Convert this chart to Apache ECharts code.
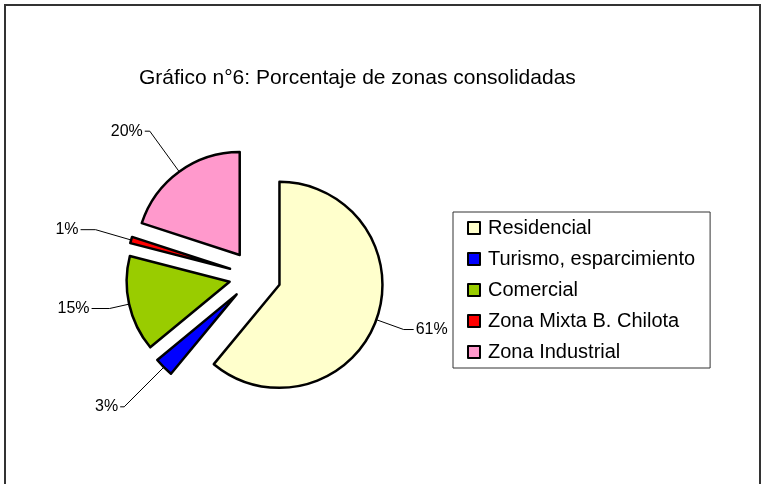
<!DOCTYPE html>
<html>
<head>
<meta charset="utf-8">
<script src="https://cdn.jsdelivr.net/npm/echarts@6/dist/echarts.min.js"></script>
<style>
html,body{margin:0;padding:0;background:#fff;}
#main{width:764px;height:484px;}
</style>
</head>
<body>
<div id="main"></div>
<script>
var categories=["Residencial","Turismo, esparcimiento","Comercial","Zona Mixta B. Chilota","Zona Industrial"];
var values=[61,3,15,1,20];
var colors=["#FFFFCC","#0000FF","#99CC00","#FF0000","#FF99CC"];
var titleText="Gráfico n°6: Porcentaje de zonas consolidadas";
// leader line lengths per slice (first segment, second segment)
var leadLen=[29,56,20,37,50];
var leadLen2=[10,4,18,15,5];

var data=[];
for(var i=0;i<categories.length;i++){
    data.push({
        name:categories[i],
        value:values[i],
        selected:true,
        itemStyle:{color:colors[i]},
        labelLine:{length:leadLen[i],length2:leadLen2[i]}
    });
}
var chart=echarts.init(document.getElementById("main"));
chart.setOption({
    animation:false,
    textStyle:{fontFamily:"Liberation Sans, Arial, sans-serif"},
    graphic:[{
        type:"rect",
        shape:{x:5,y:5,width:755,height:495},
        style:{fill:null,stroke:"#333",lineWidth:2},
        silent:true
    }],
    title:{
        text:titleText,
        left:134,
        top:63,
        textStyle:{fontSize:21,fontWeight:"normal",color:"#000",fontFamily:"Liberation Sans, Arial, sans-serif"}
    },
    legend:{
        orient:"vertical",
        left:453,
        top:212,
        padding:[6,15,6,14],
        itemGap:11,
        itemWidth:12,
        itemHeight:12,
        borderColor:"#333",
        borderWidth:1,
        selectedMode:false,
        icon:"rect",
        itemStyle:{borderColor:"#000",borderWidth:2},
        textStyle:{fontSize:20,lineHeight:20,color:"#000",padding:[0,0,0,3]},
        data:categories
    },
    series:[{
        type:"pie",
        center:[255,276],
        radius:[0,103],
        startAngle:90,
        clockwise:true,
        selectedMode:"multiple",
        selectedOffset:26,
        avoidLabelOverlap:false,
        itemStyle:{borderColor:"#000",borderWidth:2.5},
        emphasis:{disabled:true},
        label:{
            show:true,
            formatter:"{d}%",
            fontSize:16,
            color:"#000",
            position:"outside",
            distanceToLabelLine:2
        },
        labelLine:{show:true,lineStyle:{color:"#000",width:1}},
        data:data
    }]
});
</script>
</body>
</html>
